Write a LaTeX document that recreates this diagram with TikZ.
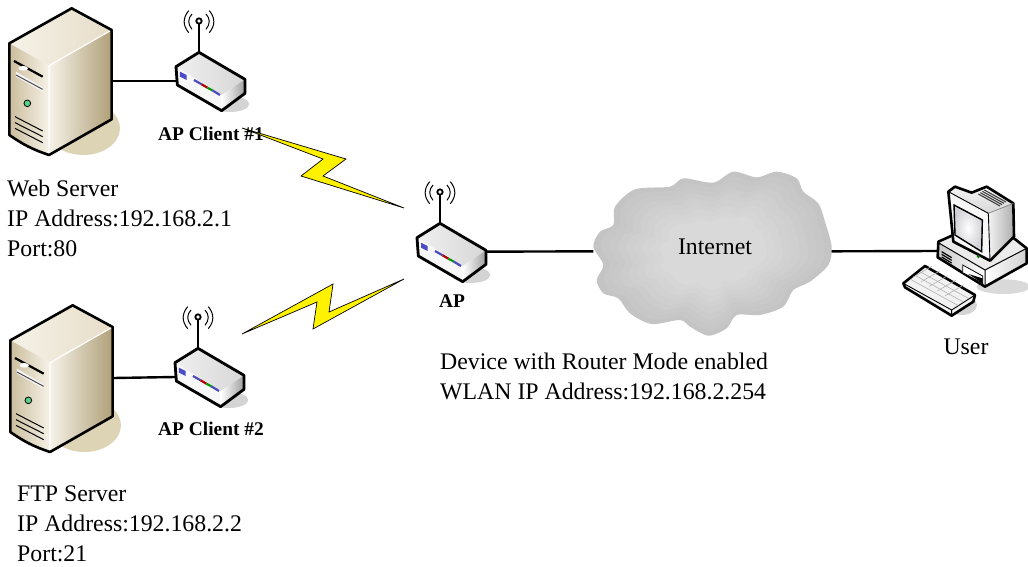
\documentclass[tikz,border=0pt]{standalone}
\usepackage{fontspec}
\setmainfont{Liberation Serif}
\definecolor{creamA}{HTML}{F6F2E8}
\definecolor{creamB}{HTML}{E6DDC8}
\definecolor{tanA}{HTML}{CBBD9C}
\definecolor{tanB}{HTML}{B0A078}
\definecolor{tanS}{HTML}{DDD3B5}
\newcommand\cloudshape{plot[smooth cycle,tension=.5] coordinates {(40,290)(60,245)(100,225)(105,170)(165,118)(270,110)(310,85)(400,98)(460,65)(530,82)(590,65)(650,85)(670,125)(715,160)(735,215)(755,290)(745,345)(690,395)(640,420)(610,470)(540,495)(470,495)(440,535)(385,557)(330,530)(300,510)(215,522)(150,490)(115,445)(70,430)(50,390)(70,345)}}
\tikzset{
 x=1pt,y=-1pt,
 wire/.style={line width=2.4pt,black},
 bolt/.style={draw=black,fill=yellow,line width=.7pt,line join=miter},
 body/.style={line width=2.6pt,line join=round,draw=black},
 label/.style={font=\fontsize{23.8}{30}\selectfont,align=left,anchor=west,inner sep=0pt},
 devlabel/.style={font=\bfseries\fontsize{19.4}{22}\selectfont,inner sep=0pt},
 serverpic/.pic={
  \begin{scope}[scale=1/3]
   \fill[tanS] (250,385) ellipse (110 and 80);
   \shade[left color=creamA,right color=creamB] (28,130)--(215,25)--(335,90)--(147,197)--cycle;
   \shade[left color=tanA,right color=creamA] (28,130)--(147,197)--(147,465) to[bend left=8] (28,405)--cycle;
   \shade[left color=creamA,middle color=creamB,right color=tanB] (147,197)--(335,90)--(335,358)--(147,465)--cycle;
   \draw[white,line width=1.2pt] (147,197)--(147,465) (147,197)--(335,90);
   \draw[body] (28,130)--(215,25)--(335,90)--(335,358)--(147,465) to[bend left=8] (28,405)--cycle;
   \fill[white!92!gray] (48,215)--(128,262)--(128,275)--(48,230)--cycle;
   \draw[black,line width=2.2pt] (42,183)--(128,230);
   \draw[black!70,line width=1pt] (48,225)--(128,268);
   \fill[white] (70,205) ellipse (14 and 7);
   \draw[black,fill=green!45!teal!65!white,line width=.8pt] (82,310) circle (10);
   \draw[black,line width=1pt] (45,350)--(128,393) (45,368)--(128,410) (45,385)--(128,428);
   \coordinate (-port) at (338,243);
  \end{scope}},
 appic/.pic={
  \begin{scope}[scale=1/3]
   \fill[black!17] (690,312) ellipse (58 and 24);
   \shade[left color=black!6,right color=black!16] (528,200)--(597,155)--(735,238)--(665,285)--cycle;
   \fill[black!3] (528,200)--(665,285)--(665,332)--(530,252)--cycle;
   \shade[left color=white,right color=black!38] (665,285)--(735,238)--(735,280)--(665,332)--cycle;
   \draw[body,line width=2.8pt] (597,157)--(735,238)--(735,280)--(665,332)--(532,255)--(528,200)--cycle;
   \fill[blue!70!black!70] (540,215)--(560,225)--(560,240)--(540,230)--cycle;
   \draw[blue!60!black!70,line width=2.2pt] (582,240)--(605,253);
   \draw[red!70!black,line width=2.2pt] (605,253)--(622,263);
   \draw[green!60!black,line width=2.2pt] (622,263)--(637,271);
   \draw[blue!60!black!70,line width=2.2pt] (637,271)--(660,285);
   \draw[black,line width=2pt] (597,72)--(597,157);
   \draw[black,fill=white,line width=1.8pt] (597,63) circle (8);
   \draw[black,line width=1pt] (566,32) .. controls (548,54) and (548,76) .. (566,98);
   \draw[black,line width=1pt] (576,42) .. controls (563,56) and (563,72) .. (576,88);
   \draw[black,line width=1pt] (628,32) .. controls (646,54) and (646,76) .. (628,98);
   \draw[black,line width=1pt] (618,42) .. controls (631,56) and (631,72) .. (618,88);
   \coordinate (-west) at (528,243);
   \coordinate (-east) at (735,242);
  \end{scope}},
 pcpic/.pic={
  \begin{scope}[scale=1/3]
   \fill[black!15] (340,350) ellipse (80 and 22);
   \fill[black!17] (215,405) ellipse (46 and 30);
   \fill[black!8] (145,215)--(190,195)--(372,205)--(410,235)--(285,300)--cycle;
   \shade[left color=black!22,right color=white] (145,218)--(285,300)--(285,350)--(143,262)--cycle;
   \shade[left color=white,right color=black!18] (285,300)--(410,235)--(410,280)--(285,350)--cycle;
   \draw[body] (145,215)--(143,262)--(285,350)--(410,280)--(410,235)--(372,205)--(190,195)--cycle;
   \draw[black,line width=1pt] (145,218)--(285,300)--(410,235) (285,300)--(285,350);
   \draw[black,line width=1.2pt] (155,245)--(185,263) (155,253)--(185,271) (155,261)--(185,279) (155,269)--(185,287);
   \draw[black,fill=white,line width=.8pt] (218,285)--(278,318)--(278,340)--(218,308)--cycle;
   \fill[black] (235,312)--(278,325)--(278,340)--cycle;
   \shade[top color=black!4,bottom color=black!16] (175,65)--(195,50)--(245,68)--(290,50)--(370,100)--(295,130)--cycle;
   \shade[left color=black!5,right color=black!32] (295,130)--(370,100)--(372,200)--(300,272)--cycle;
   \fill[black!3] (175,65)--(295,130)--(300,272)--(190,215)--cycle;
   \draw[body] (175,65)--(195,50)--(245,68)--(290,50)--(370,100)--(372,200)--(300,272)--(190,215)--cycle;
   \draw[black,line width=.9pt] (175,65)--(295,130)--(300,272);
   \draw[black!50,line width=.7pt] (295,130)--(370,100);
   \shade[draw=black,line width=1.4pt,inner color=white,outer color=blue!14!black!18] (192,105)--(277,150)--(275,245)--(195,195)--cycle;
   \draw[black!75,line width=1.1pt] (265,72)--(330,108) (271,68)--(336,104) (277,64)--(342,100) (283,60)--(348,96);
   \fill[green!50!black] (265,260) circle (5);
   \draw[body,fill=black!5] (40,340)--(105,288)--(255,375)--(250,395)--(185,437)--(45,352)--cycle;
   \draw[black,line width=.9pt] (40,340)--(185,420)--(255,375) (185,420)--(185,437);
   \foreach \i in {0,1,2,3,4}{\draw[black!30,line width=.6pt] (70+\i*24,321+\i*14)--(125+\i*24,289+\i*14);}
   \foreach \i in {1,2,3}{\draw[black!30,line width=.6pt] (45+\i*15,338-\i*11)--(190+\i*15,418-\i*11);}
   \coordinate (-port) at (143,243);
  \end{scope}}
}
\begin{document}
\begin{tikzpicture}
\useasboundingbox (0,0) rectangle (1028,567);
\pic (srvA) at (0,0) {serverpic};
\pic (srvB) at (1,297) {serverpic};
\pic (apA) at (0,0) {appic};
\pic (apB) at (-1,296) {appic};
\pic (apC) at (241,171) {appic};
\pic (pc) at (890,170) {pcpic};
\begin{scope}[shift={(580,150)},scale=1/3]
 \foreach \s/\c in {1/23,.94/22,.87/21,.8/20,.73/19,.66/18,.59/17,.52/16,.45/15}{
  \begin{scope}[shift={(400,310)},scale=\s,shift={(-400,-310)}]
   \fill[black!\c] \cloudshape;
  \end{scope}}
 \coordinate (cloudW) at (40,304);
 \coordinate (cloudE) at (755,304);
\end{scope}
\node[inner sep=0pt,font=\fontsize{23.8}{26}\selectfont] (internet) at (715,247) {Internet};
\draw[wire] (srvA-port) -- (apA-west);
\draw[wire] (srvB-port) -- (apB-west);
\draw[wire] (apC-east) -- (cloudW);
\draw[wire] (cloudE) -- (pc-port);
\node[label] (web) at (7,218) {Web Server\\IP Address:192.168.2.1\\Port:80};
\node[label] (ftp) at (17,524) {FTP Server\\IP Address:192.168.2.2\\Port:21};
\node[label] (dev) at (440,376) {Device with Router Mode enabled\\WLAN IP Address:192.168.2.254};
\node[label,anchor=center] (user) at (966,347) {User};
\node[devlabel] (c1) at (211,134) {AP Client \#1};
\node[devlabel] (c2) at (211,429) {AP Client \#2};
\node[devlabel] (ap) at (452,301) {AP};
\coordinate (b1s) at (242,128);
\coordinate (b1e) at (404,208);
\filldraw[bolt] (b1s)--(346,159)--(323,176)--(b1e)--(301,176)--(323,159)--cycle;
\coordinate (b2s) at (242,334);
\coordinate (b2e) at (404,279);
\filldraw[bolt] (b2s)--(333,284)--(329,312)--(b2e)--(313,329)--(317,302)--cycle;
\end{tikzpicture}
\end{document}
